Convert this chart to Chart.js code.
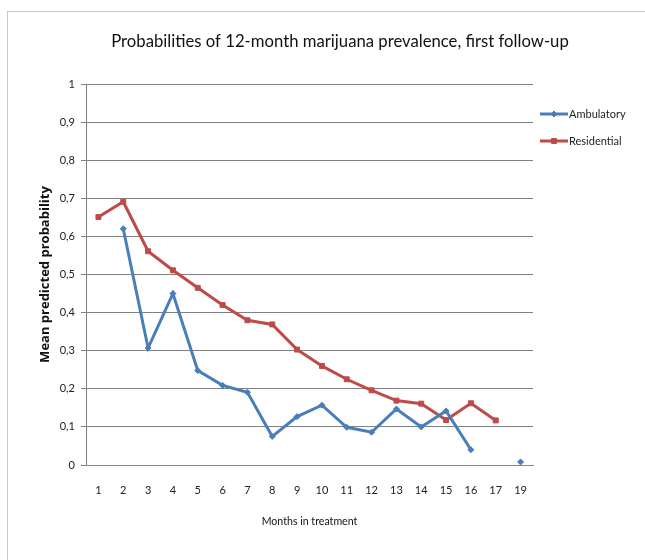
<!DOCTYPE html>
<html>
<head>
<meta charset="utf-8">
<script src="https://cdn.jsdelivr.net/npm/chart.js@4.4.1/dist/chart.umd.min.js"></script>
<style>
  html, body { margin: 0; padding: 0; background: #ffffff; overflow: hidden; }
  #wrap { width: 645px; height: 560px; position: relative; }
</style>
</head>
<body>
<div id="wrap"><canvas id="chart" width="645" height="560"></canvas></div>
<script>
// Months in treatment (no observations for month 18)
const months = ['1','2','3','4','5','6','7','8','9','10','11','12','13','14','15','16','17','19'];

// Mean predicted probability per month
const ambulatory = [null, 0.62, 0.307, 0.45, 0.248, 0.209, 0.191, 0.075, 0.127, 0.157, 0.099, 0.086, 0.147, 0.10, 0.142, 0.04, null, 0.008];
const residential = [0.651, 0.691, 0.561, 0.511, 0.465, 0.42, 0.38, 0.369, 0.303, 0.26, 0.225, 0.196, 0.169, 0.161, 0.118, 0.162, 0.117, null];

const seriesNames = ['Ambulatory', 'Residential'];
const chartTitle = 'Probabilities of 12-month marijuana prevalence, first follow-up';
const FONT = 'Lato, "Open Sans", sans-serif';
const BLUE = '#4a7ebb';
const RED = '#be4b48';

// Light frame around the chart and white background
const framePlugin = {
  id: 'frame',
  beforeDraw(chart) {
    const ctx = chart.ctx;
    ctx.save();
    ctx.fillStyle = '#ffffff';
    ctx.fillRect(0, 0, chart.width, chart.height);
    ctx.strokeStyle = '#c8c8c8';
    ctx.lineWidth = 1;
    ctx.strokeRect(7.5, 11.5, 700, 700);
    ctx.restore();
  }
};

// Title centred over the plot plus legend block
const topTitle = {
  id: 'topTitle',
  afterDraw(chart) {
    const ctx = chart.ctx;
    ctx.save();
    ctx.fillStyle = '#111111';
    ctx.font = '16.7px ' + FONT;
    ctx.textAlign = 'center';
    ctx.textBaseline = 'middle';
    ctx.fillText(chartTitle, 340, 42);
    ctx.restore();
  }
};

// Legend to the right of the plot: short line with the series marker, then its name
const sideLegend = {
  id: 'sideLegend',
  afterDraw(chart) {
    const ctx = chart.ctx;
    const x0 = chart.chartArea.right + 7;
    const rows = [114, 141];
    ctx.save();
    chart.data.datasets.forEach((ds, i) => {
      const y = rows[i];
      ctx.strokeStyle = ds.borderColor;
      ctx.fillStyle = ds.borderColor;
      ctx.lineWidth = 3;
      ctx.beginPath();
      ctx.moveTo(x0, y);
      ctx.lineTo(x0 + 28, y);
      ctx.stroke();
      ctx.lineWidth = 1;
      Chart.helpers.drawPoint(ctx, {
        pointStyle: ds.pointStyle,
        radius: ds.pointRadius,
        borderWidth: 1
      }, x0 + 14, y);
      ctx.fillStyle = '#222222';
      ctx.font = '11px ' + FONT;
      ctx.textBaseline = 'middle';
      ctx.textAlign = 'left';
      ctx.fillText(ds.label, x0 + 29, y);
    });
    ctx.restore();
  }
};

new Chart(document.getElementById('chart'), {
  type: 'line',
  data: {
    labels: months,
    datasets: [
      {
        label: seriesNames[0],
        data: ambulatory,
        borderColor: BLUE,
        backgroundColor: BLUE,
        borderWidth: 3,
        pointStyle: 'rectRot',
        pointRadius: 3,
        pointBorderWidth: 1,
        spanGaps: false,
        tension: 0
      },
      {
        label: seriesNames[1],
        data: residential,
        borderColor: RED,
        backgroundColor: RED,
        borderWidth: 3,
        pointStyle: 'rect',
        pointRadius: 3.5,
        pointBorderWidth: 1,
        spanGaps: false,
        tension: 0
      }
    ]
  },
  options: {
    responsive: false,
    animation: false,
    devicePixelRatio: 1,
    layout: { padding: { left: 0, right: 112, top: 84, bottom: 0 } },
    plugins: {
      legend: { display: false },
      tooltip: { enabled: false },
      title: { display: false }
    },
    scales: {
      x: {
        type: 'category',
        offset: true,
        afterFit(scale) { scale.height = 95; },
        grid: { display: false, drawTicks: false },
        border: { display: true, color: '#868686', width: 1 },
        ticks: {
          color: '#222222',
          font: { family: FONT, size: 11 },
          padding: 19,
          maxRotation: 0,
          autoSkip: false
        },
        title: {
          display: true,
          text: 'Months in treatment',
          color: '#111111',
          font: { family: FONT, size: 10.6 },
          padding: { top: 0, bottom: 32 }
        }
      },
      y: {
        min: 0,
        max: 1,
        afterFit(scale) { scale.width = 86; },
        grid: { color: '#808080', lineWidth: 1, tickLength: 5, drawTicks: true },
        border: { display: true, color: '#808080', width: 1 },
        ticks: {
          stepSize: 0.1,
          color: '#222222',
          font: { family: FONT, size: 11 },
          padding: 6,
          callback(v) {
            const r = Math.round(v * 10) / 10;
            return (r === 0 || r === 1) ? String(r) : r.toFixed(1).replace('.', ',');
          }
        },
        title: {
          display: true,
          text: 'Mean predicted probability',
          color: '#111111',
          font: { family: '"Open Sans", Lato, sans-serif', size: 13, weight: 'bold' },
          padding: { top: 37, bottom: 0 }
        }
      }
    }
  },
  plugins: [framePlugin, topTitle, sideLegend]
});
</script>
</body>
</html>
